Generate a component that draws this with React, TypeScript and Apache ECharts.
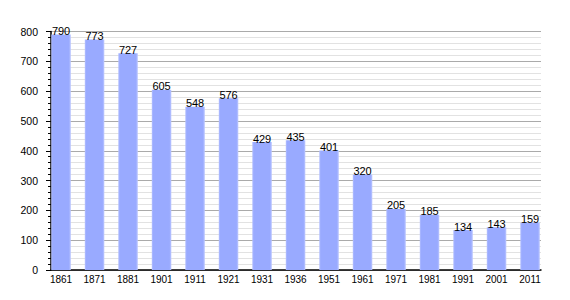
import React, { useEffect, useRef } from "react";
import * as echarts from "echarts";

const years = ["1861", "1871", "1881", "1901", "1911", "1921", "1931", "1936", "1951", "1961", "1971", "1981", "1991", "2001", "2011"];
const population = [790, 773, 727, 605, 548, 576, 429, 435, 401, 320, 205, 185, 134, 143, 159];
const yMin = 0;
const yMax = 800;
const yInterval = 100;

export default function App() {
  const ref = useRef<HTMLDivElement>(null);
  useEffect(() => {
    if (!ref.current) return;
    const chart = echarts.init(ref.current, undefined, { renderer: "svg" });
    const font = "Liberation Sans, Arial, sans-serif";
    chart.setOption({
      animation: false,
      grid: [
        { left: 43, top: 23.5, width: 490, height: 238.5, containLabel: false },
        { left: 36.3, top: 23.5, width: 502.5, height: 238.5, containLabel: false },
      ],
      xAxis: [
        {
          type: "category",
          gridIndex: 0,
          data: years,
          axisLine: { show: true, lineStyle: { color: "#000", width: 1.5 } },
          axisTick: { show: false },
          axisLabel: { show: false },
          splitLine: { show: false },
        },
        {
          type: "category",
          gridIndex: 1,
          data: years,
          axisLine: { show: false },
          axisTick: { show: false },
          axisLabel: { show: true, color: "#000", fontSize: 10, fontFamily: font, margin: 4 },
          splitLine: { show: false },
        },
      ],
      yAxis: [
        {
          type: "value",
          gridIndex: 0,
          min: yMin,
          max: yMax,
          interval: yInterval,
          axisLine: { show: true, lineStyle: { color: "#000", width: 1.5 } },
          axisTick: { show: true, length: 5, lineStyle: { color: "#000" } },
          minorTick: { show: true, splitNumber: 5, length: 3, lineStyle: { color: "#000" } },
          axisLabel: { color: "#000", fontSize: 10.5, fontFamily: font, margin: 13 },
          splitLine: { show: true, lineStyle: { color: "#aaaaaa", width: 1 } },
          minorSplitLine: { show: true, lineStyle: { color: "#e2e2e2", width: 1 } },
        },
        {
          type: "value",
          gridIndex: 1,
          min: yMin,
          max: yMax,
          interval: yInterval,
          show: false,
          splitLine: { show: false },
        },
      ],
      series: [
        {
          type: "bar",
          xAxisIndex: 1,
          yAxisIndex: 1,
          data: population,
          barWidth: 19.5,
          z: 3,
          itemStyle: {
            color: new echarts.graphic.LinearGradient(0, 0, 1, 0, [
              { offset: 0, color: "#b4c0ff" },
              { offset: 0.08, color: "#99aaff" },
              { offset: 0.9, color: "#99aaff" },
              { offset: 1, color: "#bcc7ff" },
            ]),
          },
          label: {
            show: true,
            position: "top",
            distance: -2,
            color: "#000",
            fontSize: 11,
            fontFamily: font,
          },
        },
      ],
    });
    return () => chart.dispose();
  }, []);
  return <div ref={ref} style={{ width: 554, height: 284 }} />;
}
